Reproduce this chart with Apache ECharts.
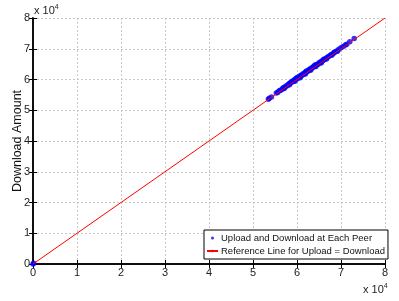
<!DOCTYPE html>
<html><head><meta charset="utf-8">
<script src="https://cdn.jsdelivr.net/npm/echarts@6/dist/echarts.min.js"></script>
<style>html,body{margin:0;padding:0;background:#fff}#c{width:399px;height:301px}</style>
</head><body><div id="c"></div>
<script>
var xTicks = [0,1,2,3,4,5,6,7,8];
var yTicks = [0,1,2,3,4,5,6,7,8];
var peerPoints = [
 [0,0],[150,250],[53500,53600],[53700,53900],[54200,54300],[55300,55600],[55600,55800],[55900,56300],
 [56200,56500],[56500,56700],[56800,57200],[57000,57300],[57300,57600],[57500,57900],[57800,58000],
 [58000,58400],[58200,58600],[58400,58700],[58600,59100],[58800,59100],[59000,59500],[59200,59400],
 [59400,59900],[59600,59900],[59800,60300],[60000,60200],[60200,60700],[60400,60600],[60600,61100],
 [60800,61000],[61000,61500],[61200,61400],[61400,61900],[61600,61800],[61800,62300],[62000,62200],
 [62200,62700],[62400,62600],[62600,63100],[62800,63000],[63000,63500],[63200,63400],[63400,63800],
 [63600,63900],[63800,64300],[64000,64200],[64200,64600],[64400,64700],[64600,65000],[64800,65000],
 [65000,65400],[65200,65500],[65400,65800],[65600,65800],[65800,66200],[66000,66300],[66300,66600],
 [66600,66900],[66900,67200],[67200,67500],[67500,67800],[67800,68100],[68200,68400],[68600,68900],
 [69000,69300],[69500,69800],[70000,70300],[70500,70700],[71000,71200],[71300,71500],[72000,72300],[73000,73300],
 [57100,57100],[58300,58300],[59500,59400],[60700,60600],[61900,61800],[63100,63000],[64300,64200],[65500,65400],
 [66700,66700],[67900,67900],[69200,69200],[59900,60500],[62100,62700],[64100,64700],[66100,66600],[68400,68800]
];
var refLine = [[0,0],[80000,80000]];
var FONT = "'Liberation Sans',Arial,sans-serif";
var chart = echarts.init(document.getElementById('c'));
var axisCommon = {
  min:0, max:80000, interval:10000,
  axisLine:{show:true,lineStyle:{color:'#000',width:1.5}},
  axisTick:{show:true,inside:true,length:4,lineStyle:{color:'#000'}},
  splitLine:{show:false}
};
var fmt = function(v){return String(v/10000);};
chart.setOption({
  animation:false,
  grid:{left:33,right:14,top:18,bottom:37,containLabel:false,outerBoundsMode:'none'},
  xAxis:[
    Object.assign({}, axisCommon, {type:'value',position:'bottom',
      axisLabel:{color:'#222',fontFamily:FONT,fontSize:11,margin:3,formatter:fmt},
      splitLine:{show:true,lineStyle:{color:'#c8c8c8',type:[2,2],width:1}}}),
    Object.assign({}, axisCommon, {type:'value',position:'top',axisLabel:{show:false}})
  ],
  yAxis:[
    Object.assign({}, axisCommon, {type:'value',position:'left',
      name:'Download Amount',nameLocation:'middle',nameGap:9,nameRotate:90,nameMoveOverlap:false,
      nameTextStyle:{color:'#111',fontFamily:FONT,fontSize:12.5},
      axisLabel:{color:'#222',fontFamily:FONT,fontSize:11,margin:3,formatter:fmt},
      splitLine:{show:true,lineStyle:{color:'#c8c8c8',type:[2,2],width:1}}}),
    Object.assign({}, axisCommon, {type:'value',position:'right',axisLabel:{show:false}})
  ],
  legend:{
    orient:'vertical',left:204,top:230,
    backgroundColor:'#fff',borderColor:'#000',borderWidth:1,borderRadius:0,
    padding:[3,3,3,2],itemGap:3,itemWidth:11,itemHeight:3,
    textStyle:{fontFamily:FONT,fontSize:9.5,color:'#111',padding:[0,0,0,-2]},
    data:[
      {name:'Upload and Download at Each Peer',icon:'circle',itemStyle:{color:'#0000ff'}},
      {name:'Reference Line for Upload = Download'}
    ]
  },
  graphic:[
    {type:'text',left:34,top:4,style:{rich:{a:{fontFamily:FONT,fontSize:11,fill:'#222'},b:{fontFamily:FONT,fontSize:7,fill:'#222',padding:[0,0,6,0]}},text:'{a|x 10}{b|4}'}},
    {type:'text',left:363,top:283,style:{rich:{a:{fontFamily:FONT,fontSize:11,fill:'#222'},b:{fontFamily:FONT,fontSize:7,fill:'#222',padding:[0,0,6,0]}},text:'{a|x 10}{b|4}'}}
  ],
  series:[
    {name:'Reference Line for Upload = Download',type:'line',data:refLine,showSymbol:false,symbol:'none',
     lineStyle:{color:'#ff0000',width:1},itemStyle:{color:'#ff0000'},z:3},
    {name:'Upload and Download at Each Peer',type:'scatter',data:peerPoints,symbol:'circle',symbolSize:5.5,
     itemStyle:{color:'#0000ff'},z:2}
  ]
});
</script></body></html>
